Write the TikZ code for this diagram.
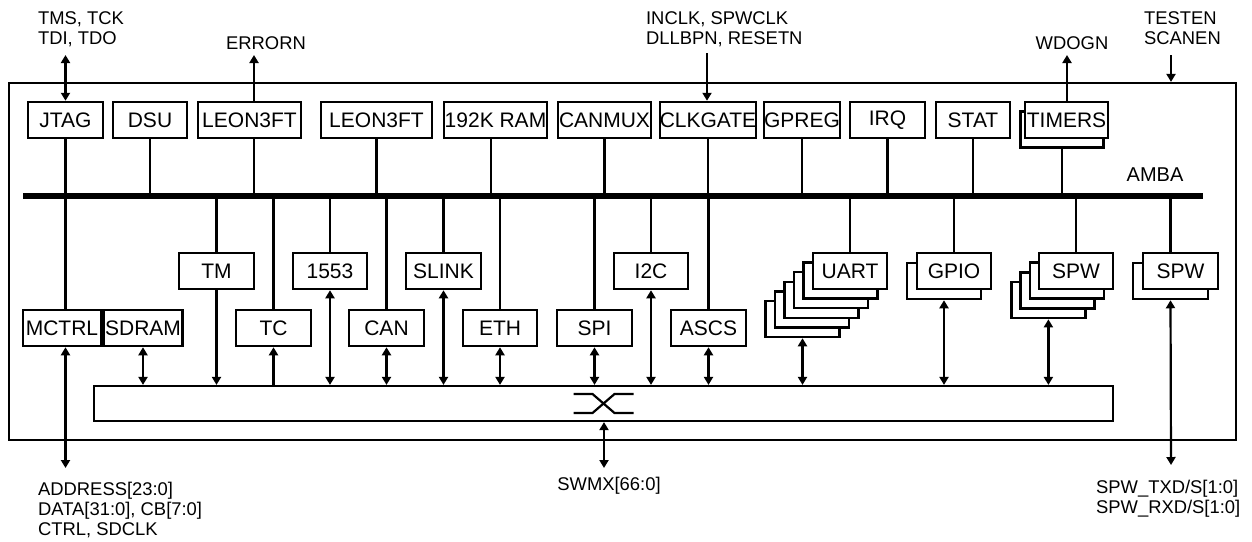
\documentclass[tikz,border=0pt]{standalone}
\usepackage{fontspec}
\setmainfont{Liberation Sans}
\usetikzlibrary{arrows.meta, positioning, calc}

\begin{document}
\begin{tikzpicture}[
    x=0.5pt, y=-0.5pt,
    >={Triangle[length=4pt, width=4.5pt]},
    line width=1.1pt,
    blk/.style={draw, line width=1.25pt, fill=white, inner sep=0pt,
                minimum height=18pt, font=\fontsize{10.5}{12}\selectfont},
    sig/.style={align=left, inner sep=0pt, font=\fontsize{9.2}{10}\selectfont}
]
    \useasboundingbox (0,0) rectangle (1252,541);

    % chip outline, AMBA bus and switch matrix
    \node[draw, inner sep=0pt, minimum width=613.5pt, minimum height=178.5pt] (chip) at (622.5,261.5) {};
    \node[fill, inner sep=0pt, minimum width=590pt, minimum height=3pt] (amba) at (613,196) {};
    \node[sig, anchor=center, font=\fontsize{10}{12}\selectfont] (ambalbl) at (1155,175) {AMBA};
    \node[draw, inner sep=0pt, minimum width=509.5pt, minimum height=17.5pt] (swmx) at (603.5,403.5) {};
    \draw[shift={(swmx.center)}] (-30,-9.5) -- (-11,-9.5) -- (11,9.5) -- (30,9.5)
                                 (-30,9.5) -- (-11,9.5) -- (11,-9.5) -- (30,-9.5);

    % top row
    \node[blk, minimum width=37.5pt] (jtag) at (65.5,120) {JTAG};
    \node[blk, minimum width=37pt] (dsu) at (150,120) {DSU};
    \node[blk, minimum width=51.5pt] (leonA) at (249.5,120) {LEON3FT};
    \node[blk, minimum width=55.5pt] (leonB) at (376.5,120) {LEON3FT};
    \node[blk, minimum width=51.5pt] (ram) at (495.5,120) {192K RAM};
    \node[blk, minimum width=46.5pt] (canmux) at (604.5,120) {CANMUX};
    \node[blk, minimum width=46pt] (clkgate) at (708,120) {CLKGATE};
    \node[blk, minimum width=37pt] (gpreg) at (802,120) {GPREG};
    \node[blk, minimum width=37.5pt] (irq) at (887.5,120) {IRQ};
    \node[blk, minimum width=37pt] (stat) at (973,120) {STAT};
    \node[blk, minimum width=41.5pt] (timersb) at (1062,129.5) {};
    \node[blk, minimum width=41.5pt] (timers) at (1066.5,120) {TIMERS};

    \foreach \n in {dsu, leonB, canmux, clkgate, gpreg, irq, stat, timersb}
        \draw (\n.south) -- (\n.south |- amba);
    \draw ([xshift=2.25pt]leonA.south) -- ([xshift=2.25pt]leonA.south |- amba);
    \draw ([xshift=-2.25pt]ram.south) -- ([xshift=-2.25pt]ram.south |- amba);

    % middle rows
    \node[blk, minimum width=37.5pt] (tm) at (216.5,271) {TM};
    \node[blk, minimum width=37pt] (p1553) at (330,271) {1553};
    \node[blk, minimum width=37.5pt] (slink) at (443.5,271) {SLINK};
    \node[blk, minimum width=37pt] (i2c) at (651,271) {I2C};
    \node[blk, minimum width=39pt] (mctrl) at (62,328) {MCTRL};
    \node[blk, minimum width=39.5pt, right=0pt of mctrl] (sdram) {SDRAM};
    \node[blk, minimum width=37.5pt] (tc) at (273.5,328) {TC};
    \node[blk, minimum width=37.5pt] (can) at (386.5,328) {CAN};
    \node[blk, minimum width=37pt] (eth) at (500,328) {ETH};
    \node[blk, minimum width=37.5pt] (spi) at (594.5,328) {SPI};
    \node[blk, minimum width=37.5pt] (ascs) at (708.5,328) {ASCS};

    \foreach \i in {5,4,...,1}
        \node[blk, minimum width=37pt] (uart\i) at (850-9.5*\i,271+9.6*\i) {};
    \node[blk, minimum width=37pt] (uart) at (850,271) {UART};
    \node[blk, minimum width=37pt] (gpiob) at (944,281) {};
    \node[blk, minimum width=37pt] (gpio) at (954,271) {GPIO};
    \foreach \i in {3,2,1}
        \node[blk, minimum width=37pt] (spw\i) at (1076-9.2*\i,271+9.7*\i) {};
    \node[blk, minimum width=37pt] (spwA) at (1076,271) {SPW};
    \node[blk, minimum width=37.5pt] (spwBb) at (1170.5,281) {};
    \node[blk, minimum width=37.5pt] (spwB) at (1180.5,271) {SPW};

    % bus taps
    \draw (jtag.south) -- (jtag.south |- mctrl.north);
    \foreach \n in {tm, p1553, slink, i2c, tc, can, eth, spi, ascs, uart, gpio, spwA}
        \draw (\n.north |- amba) -- (\n.north);
    \draw (spwBb.south |- amba) -- (spwBb.south |- spwB.north);

    % switch matrix ports
    \draw[->] (tm.south) -- (tm.south |- swmx.north);
    \draw[->] (tc.south |- swmx.north) -- (tc.south);
    \foreach \n in {sdram, p1553, can, slink, eth, spi, i2c, ascs, uart5, gpiob, spw3}
        \draw[<->] (\n.south) -- (\n.south |- swmx.north);

    % external signals
    \node[sig, anchor=north west] (jtagsig) at (37,11) {TMS, TCK\\TDI, TDO};
    \coordinate (jtagio) at (65.5,55);
    \draw[<->] (jtag.north) -- (jtagio);

    \node[sig, anchor=center] (errsig) at (266,43) {ERRORN};
    \coordinate (errio) at (254,55);
    \draw[->] (errio |- leonA.north) -- (errio);

    \node[sig, anchor=north west] (clksig) at (645,11) {INCLK, SPWCLK\\DLLBPN, RESETN};
    \coordinate (clkio) at (707,53);
    \draw[->] (clkio) -- (clkio |- clkgate.north);

    \node[sig, anchor=center] (wdsig) at (1072,43) {WDOGN};
    \coordinate (wdio) at (1067,55);
    \draw[->] (wdio |- timers.north) -- (wdio);

    \node[sig, anchor=north west] (testsig) at (1143,11) {TESTEN\\SCANEN};
    \coordinate (testio) at (1171,55);
    \draw[->] (testio) -- (testio |- chip.north);

    \node[sig, anchor=north west] (memsig) at (37,481) {ADDRESS[23:0]\\DATA[31:0], CB[7:0]\\CTRL, SDCLK};
    \coordinate (memio) at (65.5,468);
    \draw[<->] (memio |- mctrl.south) -- (memio);

    \node[sig, anchor=center] (swsig) at (609,486) {SWMX[66:0]};
    \coordinate (swio) at (604,468);
    \draw[<->] (swio |- swmx.south) -- (swio);

    \node[sig, anchor=north west] (spwsig) at (1095,479) {SPW\_TXD/S[1:0]\\SPW\_RXD/S[1:0]};
    \coordinate (spwio) at (1171,465);
    \draw[<->] (spwBb.south) -- (spwio);
\end{tikzpicture}
\end{document}
